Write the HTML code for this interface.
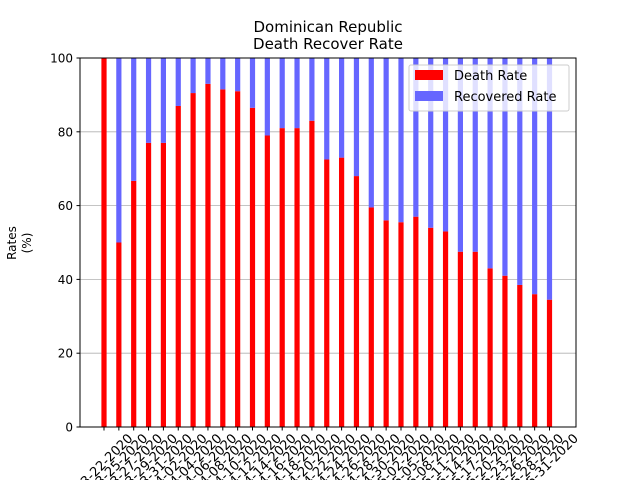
<!DOCTYPE html>
<html><head><meta charset="utf-8"><style>
body{margin:0;background:#fff;font-family:"Liberation Sans","DejaVu Sans",sans-serif;}
svg text{font-family:"DejaVu Sans","Liberation Sans",sans-serif;}
</style></head><body>
<svg id="chart" width="640" height="480" xmlns="http://www.w3.org/2000/svg">
<text x="328" y="32" text-anchor="middle" font-size="15">Dominican Republic</text>
<text x="328" y="49" text-anchor="middle" font-size="15">Death Recover Rate</text>
<g id="grid"></g><g id="bars"></g><g id="axes"></g>
<text transform="translate(19,243) rotate(-90)" text-anchor="middle" font-size="12"><tspan x="0" dy="-3">Rates</tspan><tspan x="0" dy="15">(%)</tspan></text>
<g>
<rect x="409" y="65" width="160" height="46" fill="#fff" fill-opacity="0.8" stroke="#ccc" rx="2"/>
<rect x="415" y="70" width="28" height="10" fill="#ff0000"/>
<text x="454" y="80" font-size="13">Death Rate</text>
<rect x="415" y="91" width="28" height="10" fill="#6666ff"/>
<text x="454" y="101" font-size="13">Recovered Rate</text>
</g>
</svg>
<script>
const categories=["03-22-2020","03-25-2020","03-27-2020","03-29-2020","03-31-2020","04-02-2020","04-04-2020","04-06-2020","04-08-2020","04-10-2020","04-12-2020","04-14-2020","04-16-2020","04-18-2020","04-20-2020","04-22-2020","04-24-2020","04-26-2020","04-28-2020","04-30-2020","05-02-2020","05-05-2020","05-08-2020","05-11-2020","05-14-2020","05-17-2020","05-20-2020","05-23-2020","05-26-2020","05-28-2020","05-31-2020"];
const deathRate=[100,50,66.7,77,77,87,90.5,93,91.5,91,86.5,79,81,81,83,72.5,73,68,59.5,56,55.5,57,54,53,47.5,47.5,43,41,38.5,36,34.5];
const recoveredRate=deathRate.map(d=>100-d);
const yTicks=[0,20,40,60,80,100];
const NS="http://www.w3.org/2000/svg";
const L=80,R=576,T=58,B=427;
const step=14.85, x0=104;
const xs=i=>x0+i*step;
const ys=v=>B-(v/100)*(B-T);
function mk(tag,attrs,parent){const e=document.createElementNS(NS,tag);for(const k in attrs)e.setAttribute(k,attrs[k]);parent.appendChild(e);return e;}
const grid=document.getElementById('grid'),bars=document.getElementById('bars'),axes=document.getElementById('axes');
yTicks.forEach(t=>{
  const g=mk('line',{x1:L,x2:R,y1:ys(t),y2:ys(t),stroke:'#b0b0b0','stroke-width':0.8},grid);
  
  
  mk('line',{x1:L-3.5,x2:L,y1:ys(t),y2:ys(t),stroke:'#000'},axes);
  const tx=mk('text',{x:L-7,y:ys(t)+4.5,'text-anchor':'end','font-size':12},axes);
  tx.textContent=t;
  
  
});
const bw=5.2;
categories.forEach((c,i)=>{
  const x=xs(i);
  const r1=mk('rect',{x:x-bw/2,y:ys(deathRate[i]),width:bw,height:B-ys(deathRate[i]),fill:'#ff0000'},bars);
  
  
  const r2=mk('rect',{x:x-bw/2,y:ys(100),width:bw,height:ys(deathRate[i])-ys(100),fill:'#6666ff'},bars);
  
  
  mk('line',{x1:x,x2:x,y1:B,y2:B+3.5,stroke:'#000'},axes);
  const tx=mk('text',{x:0,y:4,'text-anchor':'middle','font-size':13,transform:`translate(${x},${B+36}) rotate(-45)`},axes);
  tx.textContent=c;
  
  
});
const frame=mk('rect',{x:L,y:T,width:R-L,height:B-T,fill:'none',stroke:'#000','stroke-width':1},axes);


</script>
</body></html>
